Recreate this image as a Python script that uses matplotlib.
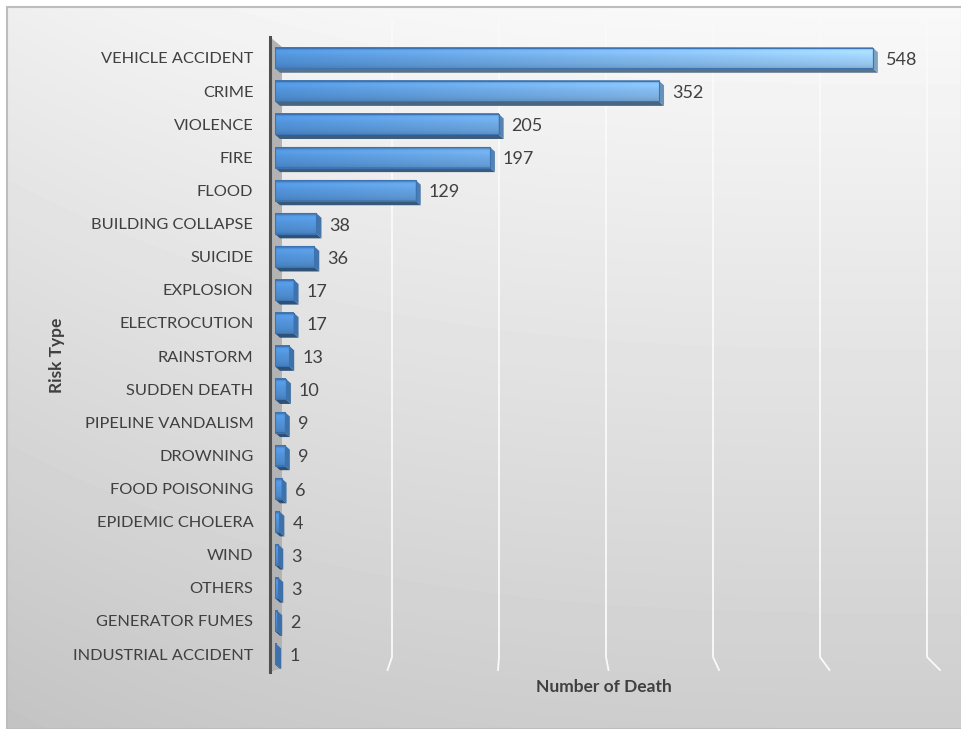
import numpy as np
import matplotlib.pyplot as plt
from matplotlib.patches import Polygon, Rectangle

risk_types = ['VEHICLE ACCIDENT', 'CRIME', 'VIOLENCE', 'FIRE', 'FLOOD',
              'BUILDING COLLAPSE', 'SUICIDE', 'EXPLOSION', 'ELECTROCUTION',
              'RAINSTORM', 'SUDDEN DEATH', 'PIPELINE VANDALISM', 'DROWNING',
              'FOOD POISONING', 'EPIDEMIC CHOLERA', 'WIND', 'OTHERS',
              'GENERATOR FUMES', 'INDUSTRIAL ACCIDENT']
deaths = [548, 352, 205, 197, 129, 38, 36, 17, 17, 13, 10, 9, 9, 6, 4, 3, 3, 2, 1]
grid_values = [100, 200, 300, 400, 500, 600]

plt.rcParams['font.family'] = ['Lato', 'DejaVu Sans']
W, H = 962, 729
fig = plt.figure(figsize=(W / 100, H / 100), dpi=100)
fig.patch.set_facecolor('white')

# grey chart panel, drawn in pixel coordinates
bg = fig.add_axes([0, 0, 1, 1])
bg.set_xlim(0, W)
bg.set_ylim(H, 0)
bg.axis('off')
gy, gx = np.mgrid[0:1:240j, 0:1:300j]
shade = 0.975 - 0.17 * gy - 0.04 * (1 - gx) ** 3
bg.imshow(shade, cmap='gray', vmin=0, vmax=1, extent=[7, W, H, 7],
          aspect='auto', interpolation='bilinear')
bg.add_patch(Rectangle((7, 7), W - 7, H - 7, fill=False, ec='#bdbdbd', lw=1.5))

# back wall gridlines, bending onto the floor
for v in grid_values:
    xw = 285 + 1.07 * v
    xf = 277 + 1.105 * v
    bg.plot([xw, xw, xf], [20, 657, 670], color='#fafafa', lw=1.3)

# side wall strip next to the value axis
bg.add_patch(Polygon([(270, 37), (282, 47), (282, 668), (270, 672)],
                     closed=True, fc='#b3b3b3', ec='none'))

# bar axes
left, right, top, bottom = 275, 929.6, 37, 672
ax = fig.add_axes([left / W, 1 - bottom / H, (right - left) / W, (bottom - top) / H])
ax.patch.set_alpha(0)
ax.set_xlim(0, 600)
ax.set_ylim(18.54, -0.634)
for s in ['top', 'right', 'bottom']:
    ax.spines[s].set_visible(False)
ax.spines['left'].set_position(('outward', 3.6))
ax.spines['left'].set_color('#4f4f4f')
ax.spines['left'].set_linewidth(2.2)
ax.set_xticks([])
ax.set_yticks(range(len(risk_types)), risk_types)
ax.tick_params(axis='y', length=0, pad=12, labelsize=11.8, labelcolor='#404040')

px_x = 600 / (right - left)
px_y = (18.54 + 0.634) / (bottom - top)
dx, dy = 5 * px_x, 4.5 * px_y
h = 0.62

c0 = np.array([80, 145, 215]) / 255
c1 = np.array([160, 209, 249]) / 255


def face_color(x):
    t = np.clip(x / 548, 0, 1)
    return c0[None, :] + (c1 - c0)[None, :] * np.asarray(t)[:, None]


prof = np.array([0.82, 1.06, 1.08, 1.05, 1.02, 1.0, 0.98, 0.96, 0.93, 0.88])

for i, v in enumerate(deaths):
    yt, yb = i - h / 2, i + h / 2
    xs = np.linspace(0, v, 60)
    cols = face_color(xs)
    img = np.clip(prof[:, None, None] * cols[None, :, :], 0, 1)
    ax.imshow(img, extent=[0, v, yb, yt], aspect='auto', interpolation='bilinear', zorder=3)
    end_col = face_color(np.array([v]))[0]
    ax.add_patch(Polygon([(0, yb), (v, yb), (v + dx, yb + dy), (dx, yb + dy)],
                         closed=True, fc=end_col * 0.55, ec='none', zorder=3))
    ax.add_patch(Polygon([(v, yt), (v + dx, yt + dy), (v + dx, yb + dy), (v, yb)],
                         closed=True, fc=end_col * 0.78, ec='none', zorder=3))
    ax.add_patch(Rectangle((0, yt), v, h, fill=False, ec='#3b73b4', lw=0.8, zorder=4))
    ax.annotate(str(v), (v, i), xytext=(13, -2), textcoords='offset pixels',
                va='center', ha='left', fontsize=13, color='#404040')

fig.text(57 / W, 1 - 355 / H, 'Risk Type', rotation=90, ha='center', va='center',
         fontsize=12.5, fontweight='bold', color='#404040')
fig.text(604 / W, 1 - 687 / H, 'Number of Death', ha='center', va='center',
         fontsize=12.5, fontweight='bold', color='#404040')

fig.savefig('out.png', dpi=100)
